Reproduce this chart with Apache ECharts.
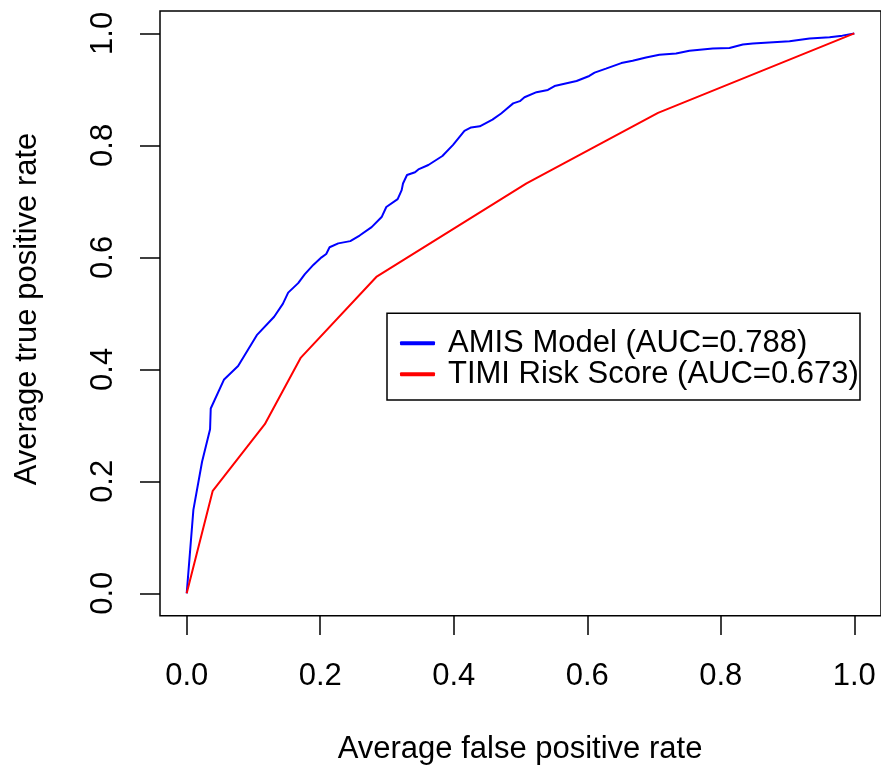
<!DOCTYPE html>
<html>
<head>
<meta charset="utf-8">
<script src="https://cdn.jsdelivr.net/npm/echarts@6/dist/echarts.min.js"></script>
<style>
html,body{margin:0;padding:0;background:#fff;}
#chart{width:881px;height:772px;}
</style>
</head>
<body>
<div id="chart"></div>
<script>
// AMIS Model ROC curve (false positive rate, true positive rate)
var amisFpr = [0,0.010,0.023,0.035,0.036,0.056,0.077,0.105,0.131,0.144,0.152,0.167,0.177,0.190,0.202,0.209,0.214,0.227,0.245,0.259,0.277,0.292,0.299,0.316,0.322,0.324,0.330,0.342,0.347,0.362,0.383,0.399,0.416,0.426,0.439,0.458,0.471,0.479,0.489,0.499,0.506,0.524,0.541,0.551,0.584,0.603,0.611,0.628,0.651,0.668,0.688,0.708,0.733,0.753,0.788,0.813,0.833,0.848,0.903,0.933,0.963,0.982,1.0];
var amisTpr = [0,0.149,0.235,0.293,0.330,0.382,0.406,0.461,0.494,0.517,0.537,0.554,0.570,0.587,0.600,0.606,0.618,0.625,0.629,0.639,0.654,0.672,0.690,0.704,0.720,0.732,0.747,0.752,0.757,0.765,0.781,0.801,0.826,0.832,0.834,0.846,0.857,0.865,0.875,0.879,0.886,0.895,0.899,0.906,0.915,0.924,0.930,0.937,0.947,0.951,0.957,0.962,0.964,0.969,0.973,0.974,0.980,0.982,0.986,0.991,0.993,0.996,1.0];
// TIMI Risk Score ROC curve
var timiFpr = [0,0.039,0.117,0.171,0.284,0.509,0.706,1.0];
var timiTpr = [0,0.183,0.302,0.421,0.565,0.732,0.858,1.0];

var seriesNames = ['AMIS Model (AUC=0.788)', 'TIMI Risk Score (AUC=0.673)'];
var seriesColors = ['#0000FF', '#FF0000'];
var tickValues = [0, 0.2, 0.4, 0.6, 0.8, 1.0];
var xTitle = 'Average false positive rate';
var yTitle = 'Average true positive rate';

function pairs(xs, ys){ return xs.map(function(x,i){ return [x, ys[i]]; }); }

var FONT = '"Liberation Sans", Arial, Helvetica, sans-serif';
var chart = echarts.init(document.getElementById('chart'), null, {renderer:'canvas'});

var option = {
  animation: false,
  backgroundColor: '#ffffff',
  grid: {left: 160, top: 11, width: 722, height: 604.7, containLabel: false,
         show: true, borderColor: '#000', borderWidth: 1.5, backgroundColor: 'transparent'},
  xAxis: {
    type: 'value', min: -0.04, max: 1.04,
    axisLine: {show: false, onZero: false},
    axisTick: {show: true, inside: false, length: 19.3, customValues: tickValues, lineStyle: {color: '#000', width: 1.5}},
    splitLine: {show: false},
    axisLabel: {show: true, margin: 45.5, fontSize: 31, color: '#000', fontFamily: FONT, customValues: tickValues,
      formatter: function(v){ return v.toFixed(1); }}
  },
  yAxis: {
    type: 'value', min: -0.04, max: 1.04,
    axisLine: {show: false, onZero: false},
    axisTick: {show: true, inside: false, length: 20, customValues: tickValues, lineStyle: {color: '#000', width: 1.5}},
    splitLine: {show: false},
    axisLabel: {show: true, margin: 41.5, rotate: 90, fontSize: 31, color: '#000', fontFamily: FONT, customValues: tickValues,
      formatter: function(v){ return v.toFixed(1); }}
  },
  legend: {
    orient: 'vertical', left: 400, top: 327.8, padding: 0, itemGap: 0,
    itemWidth: 35, itemHeight: 4, icon: 'roundRect',
    textStyle: {fontSize: 31, color: '#000', fontFamily: FONT, lineHeight: 29, padding: [0,0,0,8]},
    data: seriesNames.map(function(n, i){ return {name: n, itemStyle: {color: seriesColors[i]}}; })
  },
  graphic: [
    {type: 'rect', shape: {x: 387, y: 313.3, width: 473, height: 86.7}, silent: true, z: 10,
     style: {fill: 'none', stroke: '#000', lineWidth: 1.5}},
    {type: 'text', x: 520, y: 749, silent: true,
     style: {text: xTitle, fontSize: 31, fontFamily: FONT, fill: '#000', align: 'center', verticalAlign: 'middle'}},
    {type: 'text', x: 27, y: 309, rotation: Math.PI/2, silent: true,
     style: {text: yTitle, fontSize: 31, fontFamily: FONT, fill: '#000', align: 'center', verticalAlign: 'middle'}}
  ],
  series: [
    {name: seriesNames[0], type: 'line', data: pairs(amisFpr, amisTpr), showSymbol: false, symbol: 'none',
     lineStyle: {color: seriesColors[0], width: 2}, itemStyle: {color: seriesColors[0]}},
    {name: seriesNames[1], type: 'line', data: pairs(timiFpr, timiTpr), showSymbol: false, symbol: 'none',
     lineStyle: {color: seriesColors[1], width: 2}, itemStyle: {color: seriesColors[1]}}
  ]
};
chart.setOption(option);
</script>
</body>
</html>
